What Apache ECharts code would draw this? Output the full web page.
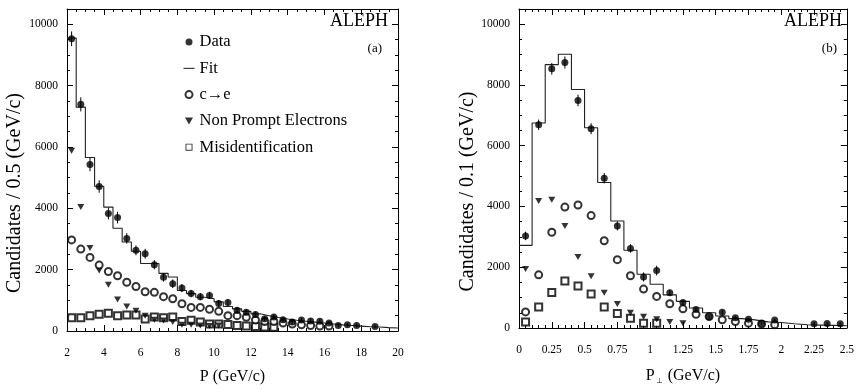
<!DOCTYPE html>
<html>
<head>
<meta charset="utf-8">
<script src="https://cdn.jsdelivr.net/npm/echarts@6/dist/echarts.min.js"></script>
<style>
  html, body { margin: 0; padding: 0; background: #fff; }
  #chart { width: 857px; height: 390px; }
</style>
</head>
<body>
<div id="chart"></div>
<script>
// ---- panel (a): P, bins of 0.5 GeV/c ----
const pCenters = [2.25, 2.75, 3.25, 3.75, 4.25, 4.75, 5.25, 5.75, 6.25, 6.75,
  7.25, 7.75, 8.25, 8.75, 9.25, 9.75, 10.25, 10.75, 11.25, 11.75,
  12.25, 12.75, 13.25, 13.75, 14.25, 14.75, 15.25, 15.75, 16.25, 16.75,
  17.25, 17.75, 18.25, 18.75, 19.25, 19.75]
const pData = [9530, 7390, 5430, 4710, 3830, 3700, 3020, 2630, 2520, 2160,
  1750, 1540, 1400, 1220, 1120, 1160, 900, 930, 680, 610,
  540, 400, 460, 370, 290, 360, 330, 320, 260, 180,
  200, 180, null, 150, null, null]
const pErr = [240, 230, 220, 200, 190, 190, 170, 160, 160, 150,
  140, 140, 130, 120, 120, 120, 110, 110, 100, 100,
  90, 80, 80, 80, 70, 70, 70, 70, 60, 60,
  60, 60, null, 50, null, null]
const pFit = [9550, 7300, 5660, 4720, 4040, 3350, 2900, 2600, 2200, 2200,
  1880, 1760, 1320, 1220, 1100, 1050, 950, 800, 720, 640,
  560, 500, 440, 390, 350, 320, 290, 260, 230, 200,
  180, 160, 140, 130, 110, 100]
const pCharm = [2970, 2670, 2400, 2150, 1940, 1800, 1590, 1450, 1280, 1260,
  1120, 1050, 890, 770, 770, 710, 640, 500, 500, 450,
  360, 310, 310, 260, 230, 200, 180, 160, 160, null,
  null, null, null, null, null, null]
const pNonPrompt = [5880, 4040, 2710, 1970, 1510, 1030, 800, 660, 500, 370,
  340, 290, 200, 200, 180, 160, 180, null, null, null,
  null, null, null, null, null, null, null, null, null, null,
  null, null, null, null, null, null]
const pMisid = [430, 430, 500, 550, 575, 500, 520, 520, 390, 460,
  430, 460, 310, 350, 290, 230, 230, 210, 180, 160,
  150, 130, 120, null, null, null, null, null, null, null,
  null, null, null, null, null, null]

// ---- panel (b): P_perp, bins of 0.1 GeV/c ----
const ptCenters = [0.05, 0.15, 0.25, 0.35, 0.45, 0.55, 0.65, 0.75, 0.85, 0.95,
  1.05, 1.15, 1.25, 1.35, 1.45, 1.55, 1.65, 1.75, 1.85, 1.95,
  2.05, 2.15, 2.25, 2.35, 2.45]
const ptData = [3030, 6690, 8530, 8740, 7490, 6560, 4930, 3360, 2620, 1680,
  1890, 1160, 840, 610, 370, 520, 340, 290, 150, 260,
  null, null, 140, 150, 140]
const ptErr = [140, 170, 190, 200, 190, 180, 170, 150, 140, 150,
  160, 100, 90, 70, 60, 70, 60, 50, 40, 50,
  null, null, 40, 40, 40]
const ptFit = [2720, 6750, 8670, 9010, 7850, 6590, 4790, 3520, 2560, 1770,
  1440, 1090, 875, 660, 500, 394, 310, 266, 203, 181,
  138, 106, 96, 85, 75]
const ptCharm = [530, 1750, 3150, 3980, 4050, 3700, 2870, 2250, 1720, 1280,
  1040, 800, 630, 450, 380, 270, 210, 160, 130, 110,
  null, null, null, null, null]
const ptNonPrompt = [1940, 4180, 4220, 3360, 2340, 1700, 1160, 790, 500, 370,
  290, 200, 160, null, null, null, null, null, null, null,
  null, null, null, null, null]
const ptMisid = [200, 690, 1170, 1550, 1380, 1120, 690, 480, 320, 160,
  160, null, null, null, null, null, null, null, null, null,
  null, null, null, null, null]

const FONT = 'Liberation Serif'
const TRI_DOWN = 'path://M0,0 L10,0 L5,8.7 Z'
const OPEN_SQUARE = 'path://M0,0 L10,0 L10,10 L0,10 Z M1.3,1.3 L1.3,8.7 L8.7,8.7 L8.7,1.3 Z'
const DASH = 'path://M0,0 L12,0 L12,1 L0,1 Z'

const pairs = (xs, ys) => xs.map((x, i) => [x, ys[i]]).filter(p => p[1] != null)
const triples = (xs, ys, es) => xs.map((x, i) => [x, ys[i], es[i]]).filter(p => p[1] != null)
// histogram: left edge of each bin, plus closing point at right edge
const steps = (xs, ys, w) => {
  const pts = xs.map((x, i) => [x - w / 2, ys[i]])
  pts.push([xs[xs.length - 1] + w / 2, ys[ys.length - 1]])
  return pts
}

const tickLine = { color: '#000', width: 1 }
const plain = v => String(v)

function xAxes(g, min, max, interval, minorSplit, name) {
  const base = {
    type: 'value', gridIndex: g, min, max, interval,
    axisLine: { onZero: false, lineStyle: tickLine },
    axisTick: { inside: true, length: 6, lineStyle: tickLine },
    minorTick: { show: true, splitNumber: minorSplit, length: 3, lineStyle: tickLine },
    splitLine: { show: false }
  }
  return [
    Object.assign({}, base, {
      position: 'bottom',
      axisLabel: { fontFamily: FONT, fontSize: 11.5, color: '#000', margin: 16, formatter: plain },
      name, nameLocation: 'middle', nameGap: 38,
      nameTextStyle: {
        fontFamily: FONT, fontSize: 16, color: '#000',
        rich: {
          p: { fontFamily: FONT, fontSize: 16, color: '#000' },
          s: { fontFamily: 'DejaVu Sans', fontSize: 7, color: '#000', padding: [12, 5, 0, 2] }
        }
      }
    }),
    Object.assign({}, base, { position: 'top', axisLabel: { show: false } })
  ]
}

function yAxes(g, name, nameGap) {
  const base = {
    type: 'value', gridIndex: g, min: 0, max: 10500, interval: 2000,
    axisLine: { onZero: false, lineStyle: tickLine },
    axisTick: { inside: true, length: 6, lineStyle: tickLine },
    minorTick: { show: true, splitNumber: 4, length: 3, lineStyle: tickLine },
    splitLine: { show: false }
  }
  return [
    Object.assign({}, base, {
      position: 'left',
      axisLabel: { fontFamily: FONT, fontSize: 11.5, color: '#000', margin: 9, showMaxLabel: false, formatter: plain },
      name, nameLocation: 'middle', nameGap,
      // title sits a little below the middle of the axis
      nameTextStyle: { fontFamily: FONT, fontSize: 20, color: '#000', padding: [0, 46, 0, 0] }
    }),
    Object.assign({}, base, { position: 'right', axisLabel: { show: false } })
  ]
}

function panelSeries(ax, xs, data, err, fit, charm, nonPrompt, misid, w) {
  const common = { xAxisIndex: ax, yAxisIndex: ax }
  return [
    Object.assign({
      name: 'Fit', type: 'line', data: steps(xs, fit, w), step: 'end',
      symbol: 'none', itemStyle: { color: '#222' },
      lineStyle: { color: '#222', width: 1.1 }, z: 2
    }, common),
    Object.assign({
      name: 'Misidentification', type: 'scatter', data: pairs(xs, misid),
      symbol: 'emptyRect', symbolSize: 7,
      itemStyle: { color: '#000', borderWidth: 1 }, z: 3
    }, common),
    Object.assign({
      name: 'Non Prompt Electrons', type: 'scatter', data: pairs(xs, nonPrompt),
      symbol: TRI_DOWN, symbolSize: [7, 6], itemStyle: { color: '#000' }, z: 3
    }, common),
    Object.assign({
      name: 'c→e', type: 'scatter', data: pairs(xs, charm),
      symbol: 'emptyCircle', symbolSize: 7,
      itemStyle: { color: '#000', borderWidth: 1 }, z: 4
    }, common),
    Object.assign({
      name: 'err', type: 'custom', data: triples(xs, data, err),
      encode: { x: 0, y: 1 },
      renderItem: (params, api) => {
        const x = api.value(0), y = api.value(1), e = api.value(2)
        const lo = api.coord([x, y - e]), hi = api.coord([x, y + e])
        return {
          type: 'line',
          shape: { x1: lo[0], y1: lo[1], x2: hi[0], y2: hi[1] },
          style: { stroke: '#000', lineWidth: 1 }
        }
      },
      z: 5
    }, common),
    Object.assign({
      name: 'Data', type: 'scatter', data: pairs(xs, data),
      symbol: 'circle', symbolSize: 7, itemStyle: { color: '#000' }, z: 6
    }, common)
  ]
}

const chart = echarts.init(document.getElementById('chart'), null, { renderer: 'canvas' })

const titleStyle = size => ({ fontFamily: FONT, fontSize: size, fontWeight: 'normal', color: '#000' })

const option = {
  backgroundColor: '#fff',
  animation: false,
  textStyle: { fontFamily: FONT },
  grid: [
    { left: 67, right: 459, top: 9, height: 330 },
    { left: 519, right: 7, top: 9, height: 330 }
  ],
  xAxis: [
    ...xAxes(0, 2, 20, 2, 4, 'P (GeV/c)'),
    ...xAxes(1, 0, 2.5, 0.25, 5, '{p|P}{s|⊥}{p|(GeV/c)}')
  ],
  yAxis: [
    ...yAxes(0, 'Candidates / 0.5 (GeV/c)', 42),
    ...yAxes(1, 'Candidates / 0.1 (GeV/c)', 37)
  ],
  title: [
    { text: 'ALEPH', right: 469, top: 12, padding: 0, textStyle: titleStyle(18) },
    { text: '(a)', right: 475, top: 42, padding: 0, textStyle: titleStyle(13) },
    { text: 'ALEPH', right: 15, top: 12, padding: 0, textStyle: titleStyle(18) },
    { text: '(b)', right: 20, top: 42, padding: 0, textStyle: titleStyle(13) }
  ],
  legend: {
    orient: 'vertical', left: 183.5, top: 33.5, padding: 0,
    itemWidth: 11, itemHeight: 7, itemGap: 9.3,
    selectedMode: false,
    data: [
      { name: 'Data' },
      { name: 'Fit', icon: DASH, itemStyle: { color: '#000' } },
      { name: 'c→e' },
      { name: 'Non Prompt Electrons' },
      { name: 'Misidentification', icon: OPEN_SQUARE, itemStyle: { color: '#000' } }
    ],
    textStyle: { fontFamily: FONT, fontSize: 16.5, color: '#000' }
  },
  series: [
    ...panelSeries(0, pCenters, pData, pErr, pFit, pCharm, pNonPrompt, pMisid, 0.5),
    ...panelSeries(2, ptCenters, ptData, ptErr, ptFit, ptCharm, ptNonPrompt, ptMisid, 0.1)
  ]
}

chart.setOption(option)
</script>
</body>
</html>
